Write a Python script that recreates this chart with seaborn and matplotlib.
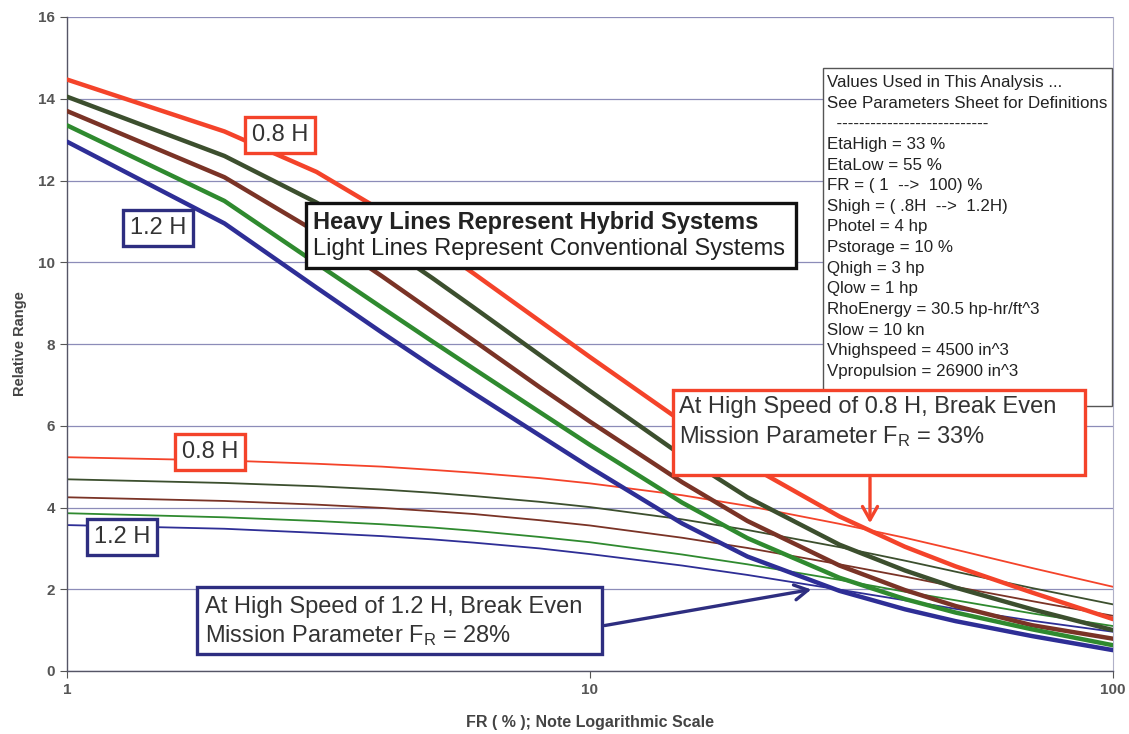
import matplotlib
matplotlib.use("Agg")
import matplotlib.pyplot as plt
from matplotlib.patches import Rectangle
import seaborn as sns
import pandas as pd

# ---------------- data ----------------
fr = [1, 2, 3, 4, 5, 6, 8, 10, 15, 20, 30, 40, 50, 70, 100]

# Hybrid systems (heavy lines)
hyb_08 = [14.47, 13.2, 12.21, 11.26, 10.43, 9.72, 8.57, 7.68, 6.10, 5.05, 3.78, 3.04, 2.56, 1.92, 1.27]
hyb_09 = [14.05, 12.6, 11.46, 10.46, 9.61, 8.89, 7.74, 6.85, 5.27, 4.25, 3.09, 2.46, 2.04, 1.51, 1.0]
hyb_10 = [13.7, 12.08, 10.74, 9.66, 8.79, 8.08, 6.95, 6.10, 4.62, 3.67, 2.58, 1.98, 1.59, 1.12, 0.79]
hyb_11 = [13.35, 11.5, 9.97, 8.89, 8.06, 7.39, 6.34, 5.53, 4.12, 3.25, 2.28, 1.76, 1.43, 1.02, 0.63]
hyb_12 = [12.95, 10.95, 9.38, 8.28, 7.45, 6.79, 5.77, 4.98, 3.61, 2.80, 1.96, 1.51, 1.22, 0.855, 0.51]

# Conventional systems (light lines)
conv_08 = [5.23, 5.15, 5.07, 5.0, 4.92, 4.85, 4.72, 4.59, 4.30, 4.04, 3.60, 3.26, 2.97, 2.52, 2.06]
conv_09 = [4.69, 4.60, 4.52, 4.44, 4.36, 4.28, 4.14, 4.01, 3.71, 3.45, 3.03, 2.70, 2.43, 2.03, 1.63]
conv_10 = [4.25, 4.16, 4.07, 3.99, 3.91, 3.84, 3.69, 3.56, 3.26, 3.01, 2.61, 2.31, 2.06, 1.71, 1.35]
conv_11 = [3.86, 3.76, 3.67, 3.59, 3.51, 3.43, 3.28, 3.15, 2.85, 2.61, 2.23, 1.94, 1.73, 1.41, 1.10]
conv_12 = [3.57, 3.48, 3.38, 3.30, 3.22, 3.14, 3.00, 2.86, 2.58, 2.35, 1.99, 1.73, 1.52, 1.23, 0.96]

speeds = ["0.8H", "0.9H", "1.0H", "1.1H", "1.2H"]
hybrid = [hyb_08, hyb_09, hyb_10, hyb_11, hyb_12]
conventional = [conv_08, conv_09, conv_10, conv_11, conv_12]
colors = ["#f4432a", "#3c4f2e", "#7a3326", "#2f8a2f", "#2e2e96"]

y_ticks = [0, 2, 4, 6, 8, 10, 12, 14, 16]
x_ticks = [1, 10, 100]
x_ticklabels = ["1", "10", "100"]

params_text = ("Values Used in This Analysis ...\n"
               "See Parameters Sheet for Definitions\n"
               "  ---------------------------\n"
               "EtaHigh = 33 %\n"
               "EtaLow = 55 %\n"
               "FR = ( 1  -->  100) %\n"
               "Shigh = ( .8H  -->  1.2H)\n"
               "Photel = 4 hp\n"
               "Pstorage = 10 %\n"
               "Qhigh = 3 hp\n"
               "Qlow = 1 hp\n"
               "RhoEnergy = 30.5 hp-hr/ft^3\n"
               "Slow = 10 kn\n"
               "Vhighspeed = 4500 in^3\n"
               "Vpropulsion = 26900 in^3")

rows = []
for s, h, c in zip(speeds, hybrid, conventional):
    for x, yh, yc in zip(fr, h, c):
        rows.append({"FR": x, "speed": s, "system": "Hybrid", "range": yh})
        rows.append({"FR": x, "speed": s, "system": "Conventional", "range": yc})
df = pd.DataFrame(rows)

# ---------------- style ----------------
sns.set_theme(style="white")
plt.rcParams["font.family"] = ["Liberation Sans", "DejaVu Sans"]
plt.rcParams["mathtext.fontset"] = "custom"
plt.rcParams["mathtext.rm"] = "Liberation Sans"
plt.rcParams["mathtext.it"] = "Liberation Sans:italic"

W, H = 1129, 734
fig = plt.figure(figsize=(W / 100, H / 100), dpi=100)
fig.patch.set_facecolor("white")
ax = fig.add_axes([67 / W, 1 - 671 / H, (1113 - 67) / W, (671 - 17) / H])

def fx(px):
    return px / W

def fy(py):
    return 1 - py / H

pal = dict(zip(speeds, colors))
conv_df = df[df.system == "Conventional"]
hyb_df = df[df.system == "Hybrid"]
sns.lineplot(data=conv_df, x="FR", y="range", hue="speed", palette=pal,
             linewidth=1.3, legend=False, ax=ax, zorder=2)
sns.lineplot(data=hyb_df, x="FR", y="range", hue="speed", palette=pal,
             linewidth=3.2, legend=False, ax=ax, zorder=3)
for ln in ax.get_lines():
    ln.set_solid_joinstyle("round")

ax.set_xscale("log")
ax.set_xlim(1, 100)
ax.set_ylim(0, 16)
ax.set_xticks(x_ticks)
ax.set_xticklabels(x_ticklabels)
ax.xaxis.set_minor_locator(matplotlib.ticker.NullLocator())
ax.set_yticks(y_ticks)
ax.yaxis.grid(True, color="#8c8cb8", linewidth=0.9)
ax.xaxis.grid(False)
ax.tick_params(axis="both", labelsize=11, colors="#555555", length=5, width=0.8,
               direction="out", left=True, bottom=True)
for lab in ax.get_xticklabels() + ax.get_yticklabels():
    lab.set_fontweight("bold")
    lab.set_color("#555555")
for sp in ["top", "right"]:
    ax.spines[sp].set_color("#b0b0c8")
    ax.spines[sp].set_linewidth(0.8)
for sp in ["left", "bottom"]:
    ax.spines[sp].set_color("#555566")
    ax.spines[sp].set_linewidth(1.0)
ax.spines["top"].set_visible(False)

ax.set_xlabel("FR ( % ); Note Logarithmic Scale", fontsize=11.5, fontweight="bold",
              color="#444444", labelpad=13)
ax.set_ylabel("Relative Range", fontsize=10.5, fontweight="bold", color="#444444",
              labelpad=8)

# ---------------- labels ----------------
RED = "#f4432a"
NAVY = "#2e2e80"
TXT = "#333333"

def label_box(cx, cy, s, ec):
    ax.text(fx(cx), fy(cy), s, transform=fig.transFigure, ha="center", va="center",
            fontsize=17, color=TXT, zorder=6,
            bbox=dict(boxstyle="square,pad=0.28", fc="white", ec=ec, lw=2.4))

label_box(280, 135, "0.8 H", RED)
label_box(158, 228, "1.2 H", NAVY)
label_box(210, 452, "0.8 H", RED)
label_box(122, 537, "1.2 H", NAVY)

def rect(x0, y0, x1, y1, ec, lw):
    ax.add_patch(Rectangle((fx(x0), fy(y1)), (x1 - x0) / W, (y1 - y0) / H,
                           transform=fig.transFigure, fc="white", ec=ec, lw=lw,
                           clip_on=False, zorder=5))

# Heavy / light explanation box
rect(306, 203, 796, 268, "#111111", 2.4)
ax.text(fx(313), fy(223), "Heavy Lines Represent Hybrid Systems", transform=fig.transFigure,
        ha="left", va="center", fontsize=17, fontweight="bold", color="#222222", zorder=6)
ax.text(fx(313), fy(249), "Light Lines Represent Conventional Systems", transform=fig.transFigure,
        ha="left", va="center", fontsize=17, color="#222222", zorder=6)

# Parameter box
rect(823, 68, 1112, 406, "#555555", 1.0)
ax.text(fx(827), fy(75), params_text, transform=fig.transFigure, ha="left", va="top",
        fontsize=12.2, color="#222222", linespacing=1.47, zorder=6)

# Red annotation
rect(673, 390, 1085, 475, RED, 2.4)
ax.text(fx(679), fy(407), "At High Speed of 0.8 H, Break Even", transform=fig.transFigure,
        ha="left", va="center", fontsize=17, color=TXT, zorder=6)
ax.text(fx(679), fy(437), "Mission Parameter F$_\\mathrm{R}$ = 33%", transform=fig.transFigure,
        ha="left", va="center", fontsize=17, color=TXT, zorder=6)
ax.annotate("", xy=(fx(870), fy(526)), xytext=(fx(870), fy(475)),
            xycoords="figure fraction", textcoords="figure fraction",
            arrowprops=dict(arrowstyle="->,head_length=0.8,head_width=0.45", color=RED, lw=2.4),
            zorder=6)

# Navy annotation
rect(197, 587, 602, 654, NAVY, 2.4)
ax.text(fx(205), fy(607), "At High Speed of 1.2 H, Break Even", transform=fig.transFigure,
        ha="left", va="center", fontsize=17, color=TXT, zorder=6)
ax.text(fx(205), fy(636), "Mission Parameter F$_\\mathrm{R}$ = 28%", transform=fig.transFigure,
        ha="left", va="center", fontsize=17, color=TXT, zorder=6)
ax.annotate("", xy=(fx(814), fy(589)), xytext=(fx(602), fy(626)),
            xycoords="figure fraction", textcoords="figure fraction",
            arrowprops=dict(arrowstyle="->,head_length=0.8,head_width=0.45", color=NAVY, lw=2.4),
            zorder=6)

fig.savefig("out.png", dpi=100, facecolor="white")
